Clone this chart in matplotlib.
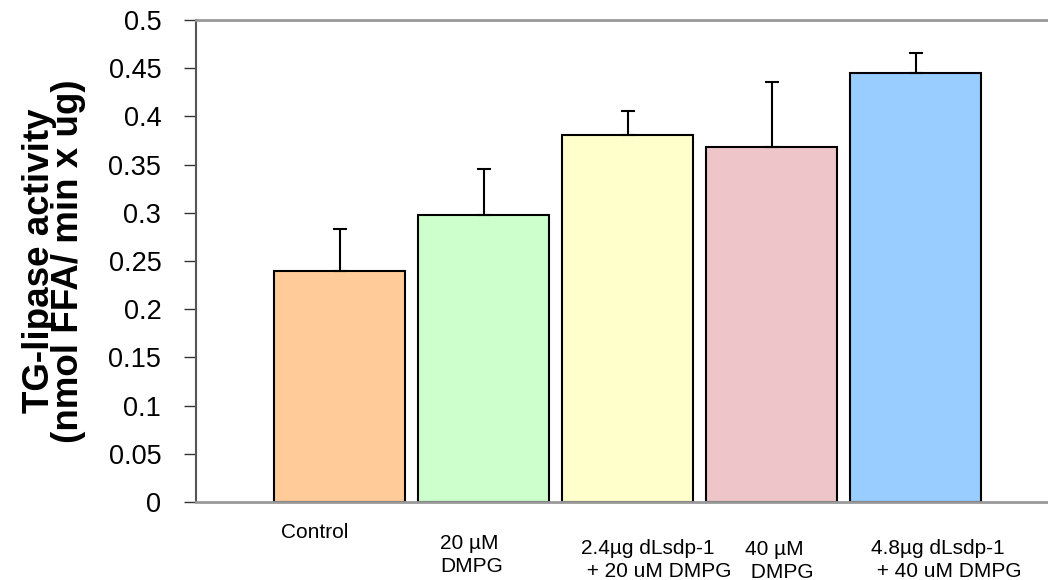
import matplotlib
matplotlib.use("Agg")
import matplotlib.pyplot as plt

categories = ["Control", "20 µM\nDMPG", "2.4µg dLsdp-1\n + 20 uM DMPG", "40 µM\n DMPG", "4.8µg dLsdp-1\n + 40 uM DMPG"]
values = [0.240, 0.298, 0.381, 0.368, 0.445]
errors = [0.043, 0.047, 0.025, 0.068, 0.021]
colors = ["#FFCC99", "#CCFFCC", "#FFFFCC", "#EEC6CA", "#99CCFF"]
yticks = [0, 0.05, 0.1, 0.15, 0.2, 0.25, 0.3, 0.35, 0.4, 0.45, 0.5]
ytick_labels = ["0", "0.05", "0.1", "0.15", "0.2", "0.25", "0.3", "0.35", "0.4", "0.45", "0.5"]
label_dx = [-0.41, -0.306, -0.323, -0.184, -0.309]
label_y = [-0.032, -0.055, -0.060, -0.061, -0.060]

plt.rcParams['font.family'] = ['Liberation Sans', 'DejaVu Sans']
fig = plt.figure(figsize=(10.48, 5.8), dpi=100)
ax = fig.add_axes([196/1048, 1-502/580, 1-196/1048, (502-20)/580])

x = list(range(len(values)))
ax.bar(x, values, width=0.91, color=colors, edgecolor="black", linewidth=1.5, zorder=2)
ax.errorbar(x, values, yerr=[[0]*len(errors), errors], fmt="none", ecolor="black",
            elinewidth=1.5, capsize=5, capthick=1.5, zorder=3)

ax.set_xlim(-1.0, 4.92)
ax.set_ylim(0, 0.5)
ax.set_yticks(yticks)
ax.set_yticklabels(ytick_labels, fontsize=19.5)
ax.tick_params(axis="y", direction="out", length=9, width=1, color="#333333", pad=16)
ax.set_xticks([])

for s in ["top", "bottom"]:
    ax.spines[s].set_color("#999999")
    ax.spines[s].set_linewidth(2)
ax.spines["left"].set_color("#555555")
ax.spines["left"].set_linewidth(1.5)
ax.spines["right"].set_visible(False)

for i, lab in enumerate(categories):
    ax.text(i + label_dx[i], label_y[i], lab, ha="left", va="center", fontsize=15,
            transform=ax.transData, clip_on=False, linespacing=1.25)

ax.set_ylabel("TG-lipase activity\n(nmol FFA/ min x ug)", fontsize=26.5, fontweight="bold",
              linespacing=0.78, labelpad=16)

fig.savefig("out.png", dpi=100)
